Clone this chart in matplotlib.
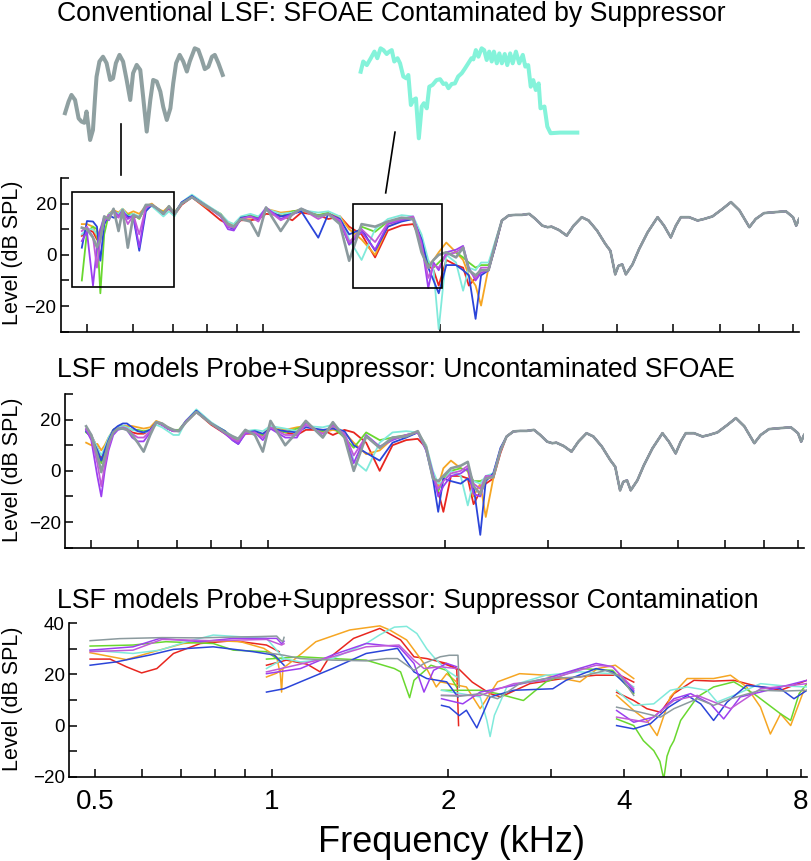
import numpy as np
import matplotlib
matplotlib.use('Agg')
import matplotlib.pyplot as plt
from matplotlib.patches import Rectangle
from matplotlib.ticker import NullLocator

plt.rcParams['font.family'] = ['Liberation Sans', 'DejaVu Sans']

# 1. Frequency grids (kHz) shared by the two upper panels
freq_lo = [0.49, 0.50, 0.512, 0.52, 0.527, 0.535, 0.545, 0.555, 0.566, 0.575,
           0.587, 0.60, 0.614, 0.63, 0.645, 0.66, 0.675, 0.69, 0.705, 0.725,
           0.755, 0.80, 0.845, 0.87, 0.89, 0.915, 0.95, 0.98, 1.01, 1.07,
           1.12, 1.16, 1.24, 1.29, 1.35, 1.40, 1.47, 1.55, 1.63, 1.72,
           1.80, 1.86, 1.91, 1.95, 1.99, 2.05, 2.13, 2.19, 2.24, 2.30,
           2.35, 2.42, 2.49]
freq_hi = [2.55, 2.62, 2.69, 2.76, 2.84, 2.91, 2.99, 3.05, 3.10, 3.19,
           3.29, 3.38, 3.49, 3.585, 3.705, 3.83, 3.905, 3.98, 4.03, 4.09,
           4.15, 4.26, 4.37, 4.52, 4.70, 4.82, 4.95, 5.05, 5.15, 5.32,
           5.50, 5.64, 5.83, 6.07, 6.27, 6.48, 6.74, 6.91, 7.14, 7.48,
           7.78, 8.00, 8.10, 8.19]
# above 2.5 kHz all runs lie on top of each other
level_hi = [13.4, 15.4, 15.6, 15.6, 16, 14, 11.4, 10.8, 11, 9.7,
            7.5, 11.4, 14.7, 13.4, 9.5, 4.2, 1.6, -7.6, -4.3, -3.7,
            -7.6, -3.7, 2.2, 8.8, 14.7, 11.4, 6.8, 11.4, 14.7, 14.7,
            13.4, 14, 15, 18, 20.6, 17.4, 10.8, 14, 16.3, 16.7,
            17, 14.7, 11.4, 14]

# 2. Panel 1: conventional LSF (dB SPL on freq_lo)
p1_red = [7.4, 10, 9, 6, 8, 12, 16, 17, 15.5, 17,
          14.5, 15, 14.5, 18.5, 19.5, 17.5, 16, 18, 15.5, 19.5,
          22.5, 18, 13.5, 12, 11, 13.5, 13.5, 14, 16, 15.5,
          13.5, 16.5, 15.5, 14, 15, 11, 8, -1, 9.5, 11.5,
          12, 5, -4, -6, -12, -2, -4, -5, -12, -9,
          -6, -6, 4]
p1_orange = [12, 12, 11, 7, 10, 13, 16, 17.5, 16.5, 18,
             16, 17, 16, 19, 20, 18, 17, 19, 16.5, 20,
             22.5, 18.5, 16, 12.5, 12, 14.5, 14.5, 14.5, 18, 16.5,
             17, 17.5, 15, 16, 15, 10, 6, 0, 11, 13.5,
             14, 6, -4, -2, 1, 4.8, 1, -2, -8, -12,
             -19.8, -5, 5]
p1_green = [-10, 9, 11, 10, -15, 8, 16, 17, 16, 17.5,
            15.5, 16, 14, 19, 19.5, 18, 16.5, 18.5, 16.5, 20,
            22.5, 19, 16, 12, 11, 14.5, 15.5, 14.5, 17.5, 15,
            17, 17.5, 15.5, 16.5, 13, 4, 11, 9, 13, 14,
            14.5, 6, -3, -5, -3, 0, 1, -1, -3, -5,
            -4, -4, 5]
p1_cyan = [8, 10, 10, 8, 6, 12, 16, 17, 16, 18,
           15, 16, 15, 18, 19, 17, 15, 17, 15, 20.5,
           23.5, 19.5, 16, 13, 12, 15, 16, 15, 18, 16,
           16.5, 17.5, 16.5, 17, 15, 6, -2, 10, 14, 15.5,
           15, 8, -2, -6, -29, 0, -3, -14, -5, -6,
           -3, -3, 6]
p1_blue = [2.8, 13.2, 13, 11, -2.3, 12, 15.5, 14.5, 15, 16.5,
           15, 14.5, 1.6, 17, 19.5, 18, 16, 18.5, 16, 20.5,
           23, 19, 15.5, 11, 10, 14.5, 15, 14, 17.5, 15,
           16, 17, 6.7, 16, 14, 8, 10, 1.6, 11, 13,
           14, 6, -5, -10, -15, -4, -4, -6, -8, -25,
           -8, -6, 4]
p1_purple = [5.4, 9, -12, 3, 10, 15, 13.5, 17.5, 15, 17.5,
             14, 15.5, 3, 18.5, 19.5, 18, 16, 18.5, 16, 20,
             22.5, 19, 15, 10, 9.5, 14, 15, 14, 18.5, 14,
             16, 18, 15, 16, 13, 4, 9, 2, 12, 13.5,
             14.5, 5, -13, -3, -6, 1, 2, 3.5, -5, -10,
             -7, -6, 5]
p1_violet = [9.3, 11, 7, -5, 6, 13, 15.5, 17, 14.5, 17,
             12, 15.5, 8, 18.5, 19.5, 18, 16, 18.5, 16, 20,
             22.5, 19, 15, 11, 10.5, 14, 15, 13, 18, 13.5,
             15.5, 18, 14, 16, 13.5, 5, 10, 5, 12.5, 14,
             15, 4, -9, -4, -5, 0, 1, 3, -6, -9,
             -5, -5, 5]
p1_gray = [10.6, 10, 6.7, 3, 6, 15, 14, 18, 9.3, 17.5,
           2.8, 15.5, 14.5, 19.5, 19.5, 18, 16, 19, 16, 20,
           22.5, 19, 15.5, 12, 11, 14, 13, 7.4, 18.5, 9.3,
           16, 18, 15, 16, 12, -2.3, 12, 11, 13, 14.5,
           14, 1, -5, -2, 0, 1, -1, 2.8, -6, -8,
           -6, -6, 5]

# 3. Panel 2: LSF model, uncontaminated SFOAE (dB SPL on freq_lo)
p2_red = [16, 14, 9, 5, 8, 12, 16, 17, 17.5, 16.5,
          15, 14.5, 14.5, 16, 19, 18, 16.5, 15.5, 15.5, 19,
          23, 18, 14.5, 12.5, 11.5, 14.5, 14.5, 14, 16.5, 15,
          14, 16, 16, 14, 16, 15, 11, 0, 10, 12,
          12.5, 9, -2, -8, -16, -2, -2, -3, -13, -8,
          -5, -3, 7]
p2_orange = [11, 10, 10.5, 8, 10, 13, 16, 17, 17.5, 17.5,
             17.5, 17, 16.5, 17, 19.5, 18.5, 17, 16, 15.5, 19,
             23, 18.5, 15.5, 13, 12, 15, 14.5, 14, 17.5, 16,
             17, 17.5, 15, 16, 15, 11, 6.5, 8, 12.5, 13.5,
             15, 10, -1, -6, 1, 4, 1, 0, -10, -5,
             -18, -3, 8]
p2_green = [15, 13.5, 8, 3, 7, 12, 16, 17, 17.5, 17,
            16, 16, 15.5, 16, 19, 18, 17, 16, 16, 19.5,
            23, 18.5, 15.5, 13, 12, 15, 15.5, 14, 17, 15,
            16.5, 17.5, 15.5, 17, 13, 9, 15, 12, 13, 14,
            15, 9, -2, -8, -3, 0, 1, 0, -4, -4,
            -3, -2, 8]
p2_cyan = [16, 14, 9, 6, 9, 13, 16, 17, 17.5, 17,
           16, 15.5, 15, 15.5, 18, 17, 15.5, 14, 14, 19.5,
           24, 19, 15.5, 13.5, 12.5, 15.5, 16, 15.5, 17.5, 16.5,
           15.5, 17.5, 17, 18, 15, 4, 0, 11, 15, 15.5,
           15, 10, 0, -5, -4, 0, -2, -13.5, -4, -5,
           -2, -1, 8.5]
p2_blue = [15.4, 13, 8, 4, 8, 12, 16, 17.5, 18.5, 18.5,
           17, 15.5, 15, 16, 19, 18, 16.5, 15.5, 15.5, 19.5,
           23.5, 18.5, 15.5, 12, 10.5, 15, 15.5, 14.5, 16.5, 15.5,
           15, 17, 16, 16.5, 15.5, 10, 7, 4, 11, 13,
           15, 8, -3, -16, -3, -4, -5, -3, -6, -25,
           -4, -1, 9]
p2_purple = [16, 12, -2, -10, 0, 8, 14, 16, 16.5, 16,
             13, 11.5, 11.5, 15, 19, 18, 16.5, 15.5, 15.5, 19.5,
             23, 18.5, 14.5, 12, 10.5, 14.5, 15, 12, 16.5, 13,
             13, 19, 13.5, 18, 14, 3, 14, 9.5, 12, 14,
             15, 9, -1, -10, -6, -2, -1, 1, -9, -10,
             -3, -2, 8]
p2_violet = [16.5, 13, 3, -6, 2, 9, 15, 16.5, 17, 16.5,
             14.5, 13, 13, 15.5, 19, 18, 16.5, 15.5, 15.5, 19,
             23, 18.5, 15, 12.5, 11.5, 15, 15, 13, 17, 14,
             14, 18, 14.5, 17.5, 14.5, 6, 13.5, 9, 12.5, 14,
             15, 8, -2, -7, -4, -1, 0, 2, -5, -7,
             -2, -2, 8]
p2_gray = [17.4, 14, 6, -0.5, 5, 11, 15, 16.5, 16.5, 16,
           14, 11, 7.5, 14, 19, 18.5, 17, 16, 15.5, 19,
           23, 18.5, 15, 13.5, 12.5, 16, 14, 7.5, 19.5, 10,
           15, 19.5, 13, 19, 13, 0, 13.5, 9, 13, 13.5,
           15.5, 9, -3, -4, -2, 1, 2, 3.5, -6, -9,
           -3, -2.4, 8]

# 4. Panel 3: suppressor contamination, four suppressor bands (nan = gap)
nan = np.nan
p3_red_f = [0.49, 0.53, 0.565, 0.60, 0.637, 0.68, 0.756, 0.86, 0.98, 1.03, nan,
            0.98, 1.06, 1.15, 1.21, 1.25, 1.38, 1.53, 1.66, 1.75, 1.84, 1.99, 2.07, 2.085, nan,
            1.95, 2.09, 2.2, 2.36, 2.46, 2.76, 3.14, 3.58, 3.93, 4.15, nan,
            3.88, 4.15, 4.37, 4.61, 4.86, 5.26, 5.68, 6.15, 6.65, 7.39, 8.2]
p3_red_db = [26, 26, 23, 20.6, 22.3, 28.2, 32.1, 33.2, 31.5, 28.9, nan,
             23.6, 25.6, 24, 21, 26.2, 34.1, 38, 33.5, 26.9, 26.2, 24.3, 22, 0, nan,
             24.5, 22, 17, 12.5, 11.2, 16.4, 18.4, 19.7, 19.7, 17, nan,
             13, 9.8, 6.6, 5.2, 12.5, 17.7, 17.4, 17.7, 15.7, 13.8, 17.7]
p3_orange_f = [0.49, 0.565, 0.62, 0.707, 0.805, 0.885, 0.97, 1.02, 1.035, 1.04, 1.045, nan,
               0.98, 1.02, 1.09, 1.19, 1.36, 1.53, 1.59, 1.70, 1.82, 1.91, 1.99, 2.07, nan,
               1.95, 2.15, 2.27, 2.43, 2.65, 2.94, 3.36, 3.6, 3.86, 4.15, nan,
               3.88, 4.15, 4.37, 4.55, 4.79, 5.12, 5.68, 6.07, 6.47, 6.83, 7.1, 7.39, 7.69, 8.1]
p3_orange_db = [28.5, 25.8, 28.5, 32.1, 33.2, 32.8, 30.2, 26.9, 20, 13.1, 22, nan,
                19, 20.5, 25.6, 32.8, 37.4, 39, 37.4, 33.5, 24.3, 15.1, 20.3, 17, nan,
                17, 15.1, 6.6, 17.1, 20.3, 19.7, 17.1, 22.3, 23.6, 18.4, nan,
                11.8, 5.9, 2, -3.9, 11.2, 18.4, 18.4, 19.7, 15.1, 7.2, -3.3, 4.6, 0, 13.8]
p3_green_f = [0.49, 0.58, 0.66, 0.795, 0.86, 0.98, 1.03, nan,
              0.98, 1.12, 1.27, 1.45, 1.62, 1.66, 1.72, 1.75, 1.87, 1.99, 2.07, nan,
              1.95, 2.27, 2.43, 2.69, 2.94, 3.36, 3.82, 4.15, nan,
              3.88, 4.15, 4.31, 4.49, 4.6, 4.67, 4.73, 4.79, 4.86, 4.99, 5.33, 5.68, 6.15,
              6.65, 7.39, 7.69, 7.95, 8.2]
p3_green_db = [31.1, 31.5, 32.8, 32.1, 29.5, 28.9, 25.6, nan,
               26, 26.9, 26.2, 25.6, 22.3, 21, 10.9, 17.7, 23.6, 21.6, 15, nan,
               13.8, 13.8, 12.5, 9.8, 17.1, 22.3, 21.6, 12.5, nan,
               2.6, 0, -5.9, -9.8, -14, -21, -12, -8.5, -5.9, 2, 11.2, 15.1, 17.1,
               12.5, 4.6, 2, 12.5, 16.4]
p3_cyan_f = [0.49, 0.58, 0.645, 0.716, 0.795, 0.98, 1.02, 1.05, nan,
             0.98, 1.05, 1.12, 1.27, 1.45, 1.53, 1.62, 1.70, 1.77, 1.84, 1.89, 1.99, 2.07, nan,
             1.95, 2.27, 2.33, 2.36, 2.40, 2.52, 2.94, 3.36, 3.82, 4.15, nan,
             3.88, 4.15, 4.49, 4.79, 5.12, 5.54, 5.76, 6.15, 6.83, 7.5, 8.2]
p3_cyan_db = [29.5, 28.2, 29.5, 32.8, 35.4, 34.1, 29.5, 26.2, nan,
              22.3, 26.2, 24.9, 26.2, 32.1, 35.5, 38.5, 38.8, 36, 30, 26.9, 21.6, 19, nan,
              13.8, 11.2, 2, -4.3, 4, 15.1, 19.7, 21, 20.3, 15.1, nan,
              13.8, 7.9, 8.5, 13.8, 15.1, 13.8, 9.2, 11.8, 16.4, 15.5, 15.1]
p3_blue_f = [0.49, 0.543, 0.62, 0.68, 0.795, 0.93, 1.01, 1.05, nan,
             0.98, 1.05, 1.12, 1.27, 1.45, 1.64, 1.75, 1.84, 1.99, 2.08, nan,
             1.95, 2.01, 2.09, 2.15, 2.24, 2.36, 2.59, 3.02, 3.18, 3.58, 3.82, 4.15, nan,
             3.88, 4.15, 4.43, 4.76, 5.12, 5.40, 5.68, 5.99, 6.47, 7.39, 7.79, 8.2]
p3_blue_db = [23.6, 24.9, 27.6, 29.8, 30.8, 28.9, 27.6, 23.6, nan,
              13.1, 14.4, 17.1, 22.3, 28.2, 30.2, 21, 18.4, 17.1, 11.2, nan,
              7.9, 7.2, 3.9, 6, -0.9, 11.2, 13.8, 14.4, 17.7, 22.3, 21, 13.1, nan,
              0, -1.3, 0.7, 7.2, 11.8, 8.5, 2, 9.2, 15.7, 14.4, 10.5, 13.8]
p3_purple_f = [0.49, 0.58, 0.645, 0.756, 0.86, 1.02, 1.04, 1.05, nan,
               0.98, 1.12, 1.27, 1.45, 1.65, 1.75, 1.82, 1.89, 1.99, 2.07, nan,
               1.95, 2.12, 2.27, 2.59, 2.94, 3.58, 3.82, 4.15, nan,
               3.88, 4.15, 4.49, 4.86, 5.19, 5.61, 5.91, 6.31, 7.2, 8.2]
p3_purple_db = [29.5, 30.8, 34.1, 32.8, 34.1, 34.1, 32, 33, nan,
                20.3, 22.3, 27.6, 32.1, 30.8, 24.3, 13.1, 21.6, 24.3, 23, nan,
                10.5, 8.5, 13.1, 15.7, 18.4, 24.3, 23, 13.8, nan,
                5.9, 1.3, 3.3, 10.5, 12.5, 8.5, 2.6, 11.2, 14.4, 17.7]
p3_violet_f = [0.49, 0.58, 0.65, 0.79, 0.98, 1.04, 1.05, nan,
               0.98, 1.27, 1.45, 1.65, 1.75, 1.82, 1.94, 2.07, nan,
               1.95, 2.27, 2.59, 2.94, 3.58, 3.82, 4.15, nan,
               3.88, 4.37, 4.86, 5.33, 6.07, 6.83, 8.2]
p3_violet_db = [28.9, 29.5, 33.7, 33.2, 33.7, 31.5, 32, nan,
                21, 26.9, 30.8, 31.5, 25.6, 22.3, 23, 22.3, nan,
                11.8, 11.8, 16.4, 17.7, 23.6, 23, 14.4, nan,
                3.3, 1.3, 9.8, 11.8, 6.6, 14.4, 16.4]
p3_gray_f = [0.49, 0.55, 0.65, 0.75, 0.85, 0.95, 1.02, 1.035, 1.045, 1.05, nan,
             0.98, 1.05, 1.12, 1.27, 1.45, 1.57, 1.64, 1.75, 1.82, 1.94, 2.01, 2.08, 2.09, nan,
             1.95, 2.1, 2.27, 2.43, 2.65, 2.94, 3.36, 3.72, 3.95, 4.15, nan,
             3.88, 4.26, 4.61, 4.86, 5.33, 5.68, 6.07, 6.83, 7.5, 8.2]
p3_gray_db = [33.2, 34.0, 34.4, 34.3, 34.6, 34.8, 35.0, 33.5, 32.8, 34.5, nan,
              28.5, 27.5, 26.2, 25.6, 25.3, 26.2, 26.2, 21.6, 24.3, 26.9, 27.5, 27.5, 15, nan,
              11.8, 11.5, 12.5, 10.5, 16.4, 18.4, 19, 21.6, 19, 11.8, nan,
              7.2, 5.2, 3.3, 6.6, 10.5, 7.9, 10.5, 13.8, 13.5, 13.8]

# 5. Magnified snippets shown above panel 1
zoom_gray_f = [0.480, 0.485, 0.489, 0.494, 0.499, 0.503, 0.507, 0.510, 0.515, 0.519,
               0.522, 0.524, 0.528, 0.533, 0.538, 0.543, 0.547, 0.551, 0.556, 0.561,
               0.566, 0.571, 0.575, 0.580, 0.585, 0.589, 0.594, 0.599, 0.603, 0.608,
               0.613, 0.617, 0.622, 0.627, 0.631, 0.635, 0.640, 0.645, 0.650, 0.654,
               0.661, 0.666, 0.671, 0.675, 0.680, 0.685, 0.689, 0.694, 0.700]
zoom_gray_db = [4.7, 7.6, 9.25, 8.0, 3.4, 2.6, 2.3, 5.1, -2.0, 0.5,
                8.8, 13.8, 17.6, 18.8, 17.2, 13.0, 13.4, 17.2, 19.25, 17.6,
                13.0, 8.0, 14.7, 16.75, 15.5, 8.8, 0.1, 8.0, 13.0, 12.6,
                10.1, 6.3, 3.0, 5.9, 12.2, 17.2, 19.25, 17.6, 15.1, 17.6,
                20.9, 20.5, 18.0, 15.7, 16.3, 18.8, 19.25, 17.2, 14.25]
zoom_cyan_f = [1.420, 1.427, 1.437, 1.448, 1.458, 1.466, 1.475, 1.483, 1.492, 1.499,
               1.506, 1.513, 1.522, 1.529, 1.538, 1.546, 1.552, 1.559, 1.566, 1.573,
               1.581, 1.589, 1.595, 1.603, 1.610, 1.619, 1.630, 1.640, 1.649, 1.656,
               1.663, 1.672, 1.681, 1.690, 1.700, 1.709, 1.718, 1.727, 1.732, 1.739,
               1.746, 1.755, 1.762, 1.769, 1.776, 1.783, 1.789, 1.797, 1.804, 1.811,
               1.819, 1.826, 1.834, 1.841, 1.850, 1.859, 1.869, 1.876, 1.884, 1.891,
               1.898, 1.905, 1.913, 1.918, 1.929, 1.937, 1.946, 1.972, 2.020]
zoom_cyan_db = [9.2, 12.6, 11.4, 13.7, 15.9, 13.7, 17.0, 16.4, 15.1, 15.9,
                16.4, 12.6, 13.7, 12.0, 7.6, 7.0, 8.1, -1.9, -0.2, 0.3,
                -13.0, -2.4, -1.3, -3.0, 4.2, 4.8, 6.4, 6.7, 5.1, 5.3,
                3.7, 5.1, 5.3, 7.6, 8.7, 10.3, 12.0, 13.7, 13.3, 16.4,
                14.2, 17.0, 16.4, 13.1, 15.9, 12.6, 15.9, 12.0, 15.3, 12.0,
                15.1, 11.4, 15.3, 12.0, 15.9, 12.0, 14.8, 10.9, 11.4, 4.2,
                6.4, 3.1, 5.3, -3.0, -2.4, -9.1, -11.3, -11.1, -11.1]

# 6. Tick positions and labels
x_ticks = [0.5, 0.6, 0.7, 0.8, 0.9, 1, 2, 3, 4, 5, 6, 7, 8]
x_tick_labels = ['0.5', '', '', '', '', '1', '2', '', '4', '', '', '', '8']

colors = {'red': '#e8261f', 'orange': '#f6a623', 'green': '#69d82f',
          'cyan': '#80eadb', 'blue': '#2b45d9', 'purple': '#9b3ff0',
          'violet': '#c05ad8', 'gray': '#8b9a9e'}
order = ['red', 'orange', 'green', 'cyan', 'blue', 'purple', 'violet', 'gray']

p1 = {'red': p1_red, 'orange': p1_orange, 'green': p1_green, 'cyan': p1_cyan,
      'blue': p1_blue, 'purple': p1_purple, 'violet': p1_violet, 'gray': p1_gray}
p2 = {'red': p2_red, 'orange': p2_orange, 'green': p2_green, 'cyan': p2_cyan,
      'blue': p2_blue, 'purple': p2_purple, 'violet': p2_violet, 'gray': p2_gray}
p3 = {'red': (p3_red_f, p3_red_db), 'orange': (p3_orange_f, p3_orange_db),
      'green': (p3_green_f, p3_green_db), 'cyan': (p3_cyan_f, p3_cyan_db),
      'blue': (p3_blue_f, p3_blue_db), 'purple': (p3_purple_f, p3_purple_db),
      'violet': (p3_violet_f, p3_violet_db), 'gray': (p3_gray_f, p3_gray_db)}

W, H = 812, 861
fig = plt.figure(figsize=(W / 100, H / 100), dpi=100)


def px_axes(left, top, right, bottom):
    return fig.add_axes([left / W, 1 - bottom / H, (right - left) / W, (bottom - top) / H])


def style(ax, ylim, ylabels, show_x):
    ax.set_xscale('log')
    ax.set_xlim(0.451, 8.19)
    ax.set_ylim(*ylim)
    ax.set_xticks(x_ticks)
    ax.xaxis.set_minor_locator(NullLocator())
    if show_x:
        ax.set_xticklabels(x_tick_labels, fontsize=20)
    else:
        ax.set_xticklabels([''] * len(x_ticks))
    yt = list(range(ylim[0], ylim[1] + 1, 10))
    ax.set_yticks(yt)
    ax.set_yticklabels(['\u221220' if v == -20 else str(v) if v in ylabels else '' for v in yt],
                       fontsize=13.5)
    ax.tick_params(axis='both', direction='in', length=6, width=1.1, color='black')
    ax.tick_params(axis='x', pad=9)
    ax.tick_params(axis='y', pad=3)
    for s in ['top', 'right']:
        ax.spines[s].set_visible(False)
    for s in ['left', 'bottom']:
        ax.spines[s].set_linewidth(1.2)


# 7. Panel 1
ax1 = px_axes(60.7, 178, 799, 331.7)
for c in order:
    ax1.plot(freq_lo + freq_hi, p1[c] + level_hi, color=colors[c],
             lw=1.9 if c == 'gray' else 1.3)
style(ax1, (-30, 30), (-20, 0, 20), False)
ax1.add_patch(Rectangle((0.471, -12.5), 0.704 - 0.471, 24.4 + 12.5,
                        fill=False, lw=1.2, ec='black', zorder=5))
ax1.add_patch(Rectangle((1.423, -12.8), 2.019 - 1.423, 20 + 12.8,
                        fill=False, lw=1.2, ec='black', zorder=5))
ax1.plot([0.572, 0.572], [31, 51], color='black', lw=1.2, clip_on=False)
ax1.plot([1.616, 1.676], [24.2, 47.9], color='black', lw=1.2, clip_on=False)

# insets
axg = px_axes(65, 48.3, 222.7, 140)
axg.plot(zoom_gray_f, zoom_gray_db, color='#8fa0a1', lw=2.9, clip_on=False)
axg.set_xlim(0.48, 0.70)
axg.set_ylim(-2, 20.9)
axg.axis('off')
axc = px_axes(360.7, 48.3, 577.3, 138.3)
axc.plot(zoom_cyan_f, zoom_cyan_db, color='#84f3da', lw=2.9, clip_on=False)
axc.set_xlim(1.42, 2.02)
axc.set_ylim(-13, 17)
axc.axis('off')

# 8. Panel 2
ax2 = px_axes(65, 394, 804, 547.7)
for c in order:
    ax2.plot(freq_lo + freq_hi, p2[c] + level_hi, color=colors[c],
             lw=1.9 if c == 'gray' else 1.3)
style(ax2, (-30, 30), (-20, 0, 20), False)

# 9. Panel 3
ax3 = px_axes(69, 623.3, 806.7, 776.7)
for c in order:
    ax3.plot(p3[c][0], p3[c][1], color=colors[c], lw=1.1)
style(ax3, (-20, 40), (-20, 0, 20, 40), True)

# 10. Text
title_kw = dict(fontsize=19.2, ha='left', va='baseline')
fig.text(57 / W, 1 - 21 / H, 'Conventional LSF: SFOAE Contaminated by Suppressor', **title_kw)
fig.text(57 / W, 1 - 376.7 / H, 'LSF models Probe+Suppressor: Uncontaminated SFOAE', **title_kw)
fig.text(57 / W, 1 - 607.7 / H, 'LSF models Probe+Suppressor: Suppressor Contamination', **title_kw)
for yc in [253, 470, 699]:
    fig.text(12.5 / W, 1 - yc / H, 'Level (dB SPL)', rotation=90, fontsize=15.5,
             ha='center', va='center')
fig.text(451.5 / W, 1 - 851.7 / H, 'Frequency (kHz)', fontsize=26, ha='center', va='baseline')

plt.savefig('out.png', dpi=100)
